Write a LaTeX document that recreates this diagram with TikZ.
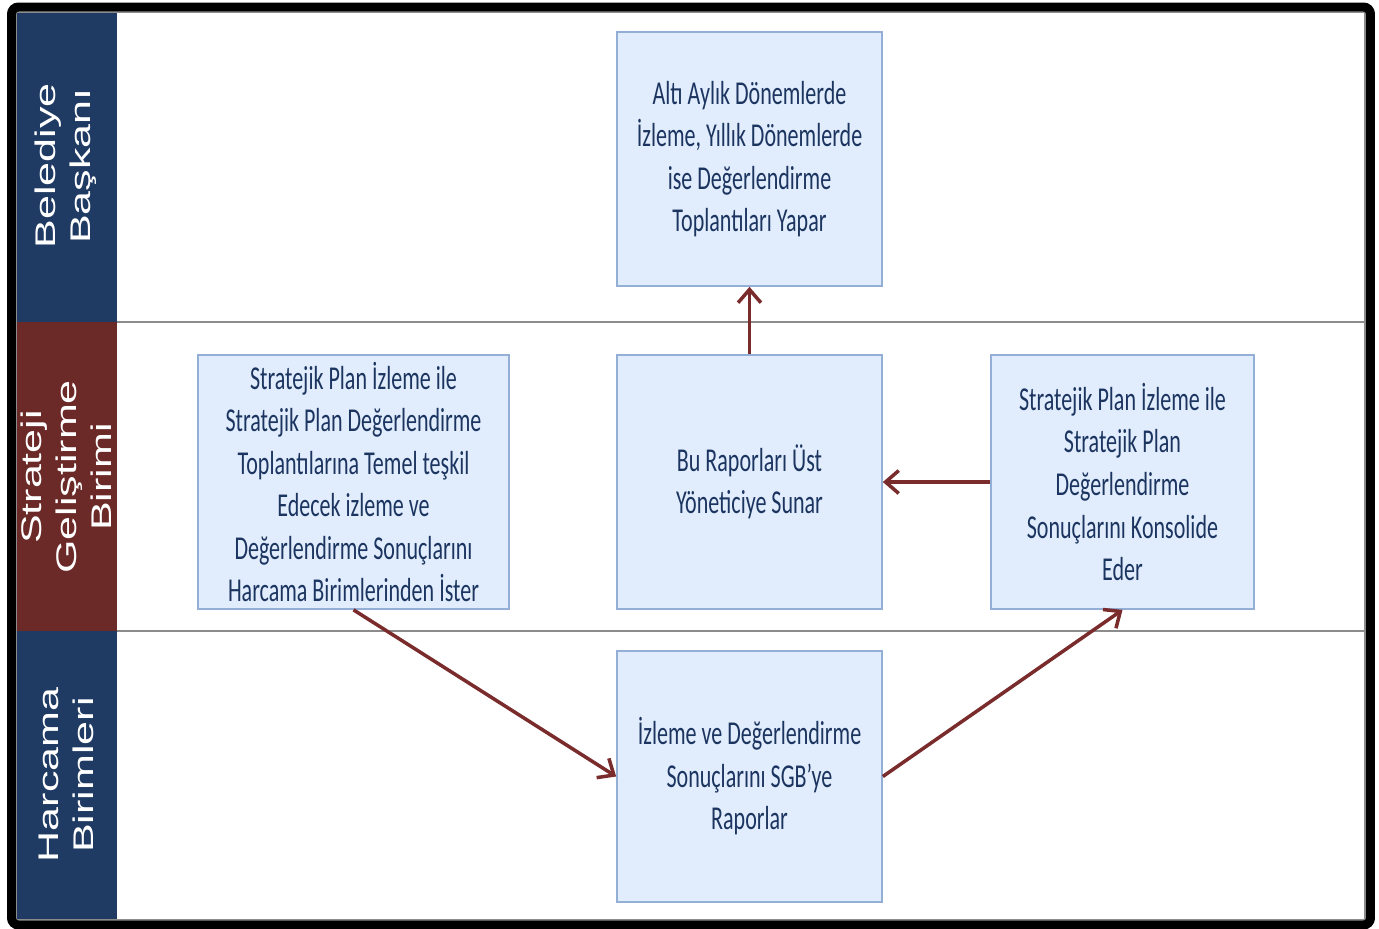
\documentclass[tikz,border=0pt]{standalone}
\usepackage{fontspec}
\setmainfont{Liberation Sans}
\newfontfamily\kutufont[FakeStretch=0.66]{Carlito}
\usetikzlibrary{arrows.meta,positioning}
\definecolor{seritmavi}{HTML}{1F3B63}
\definecolor{seritkirmizi}{HTML}{6B2A28}
\definecolor{kutudolgu}{HTML}{E1EDFC}
\definecolor{kutucizgi}{HTML}{93AFD6}
\definecolor{kutuyazi}{HTML}{1C3560}
\definecolor{okrenk}{HTML}{7A2B2B}

\begin{document}
\begin{tikzpicture}[
            x=0.02cm, y=-0.02cm,
            kutu/.style={draw=kutucizgi, fill=kutudolgu, line width=1pt, align=center,
                    text=kutuyazi, inner sep=2pt,
                    font=\kutufont\fontsize{19}{24.2}\selectfont},
            serit/.style={rotate=90, yscale=0.66, text=white, align=center,
                    font=\fontsize{24.5}{30}\selectfont},
            ok/.style={-{Straight Barb[length=7.5pt,width=13pt,line width=2pt]}, okrenk, line width=2pt},
            ayrac/.style={draw=black!45, line width=1.4pt}
        ]
        \useasboundingbox (0,0) rectangle (1379,929);

        % ================= seritler (sol bant) =================
        \fill[seritmavi]    (14,12)  rectangle (117,322);
        \fill[seritkirmizi] (14,322) rectangle (117,631);
        \fill[seritmavi]    (14,631) rectangle (117,920);

        \node[serit] (baskan)  at (66,166) {Belediye\\Başkanı};
        \node[serit] (sgb)     at (66,477) {Strateji\\Geliştirme\\Birimi};
        \node[serit] (harcama) at (66,775) {Harcama\\Birimleri};

        % ================= serit sinirlari =================
        \draw[ayrac] (117,322) -- (1365,322);
        \draw[ayrac] (117,631) -- (1365,631);
        \draw[draw=black!45, line width=1pt] (16,12) rectangle (1365,920);

        % ================= kutular =================
        \node[kutu, minimum width=5.3cm, minimum height=5.08cm] (toplanti) at (749.5,159)
        {Altı Aylık Dönemlerde\\İzleme, Yıllık Dönemlerde\\ise Değerlendirme\\Toplantıları Yapar};
        \node[kutu, minimum width=6.22cm, minimum height=5.08cm] (ister) at (353.5,482)
        {Stratejik Plan İzleme ile\\Stratejik Plan Değerlendirme\\Toplantılarına Temel teşkil\\Edecek izleme ve\\Değerlendirme Sonuçlarını\\Harcama Birimlerinden İster};
        \node[kutu, minimum width=5.3cm, minimum height=5.08cm] (sunar) at (749.5,482)
        {Bu Raporları Üst\\Yöneticiye Sunar};
        \node[kutu, minimum width=5.26cm, minimum height=5.08cm] (konsolide) at (1122.5,482)
        {Stratejik Plan İzleme ile\\Stratejik Plan\\Değerlendirme\\Sonuçlarını Konsolide\\Eder};
        \node[kutu, minimum width=5.3cm, minimum height=5.02cm] (rapor) at (749.5,776.5)
        {İzleme ve Değerlendirme\\Sonuçlarını SGB’ye\\Raporlar};

        % ================= oklar =================
        \draw[ok] (sunar.north) -- (toplanti.south);
        \draw[ok] (konsolide.west) -- (sunar.east);
        \draw[ok] (ister.south) -- (rapor.west);
        \draw[ok] (rapor.east) -- (konsolide.south);

        % ================= dis cerceve =================
        \draw[line width=5.1pt, rounded corners=4pt] (11.5,7) rectangle (1370.5,925);

    \end{tikzpicture}
\end{document}
